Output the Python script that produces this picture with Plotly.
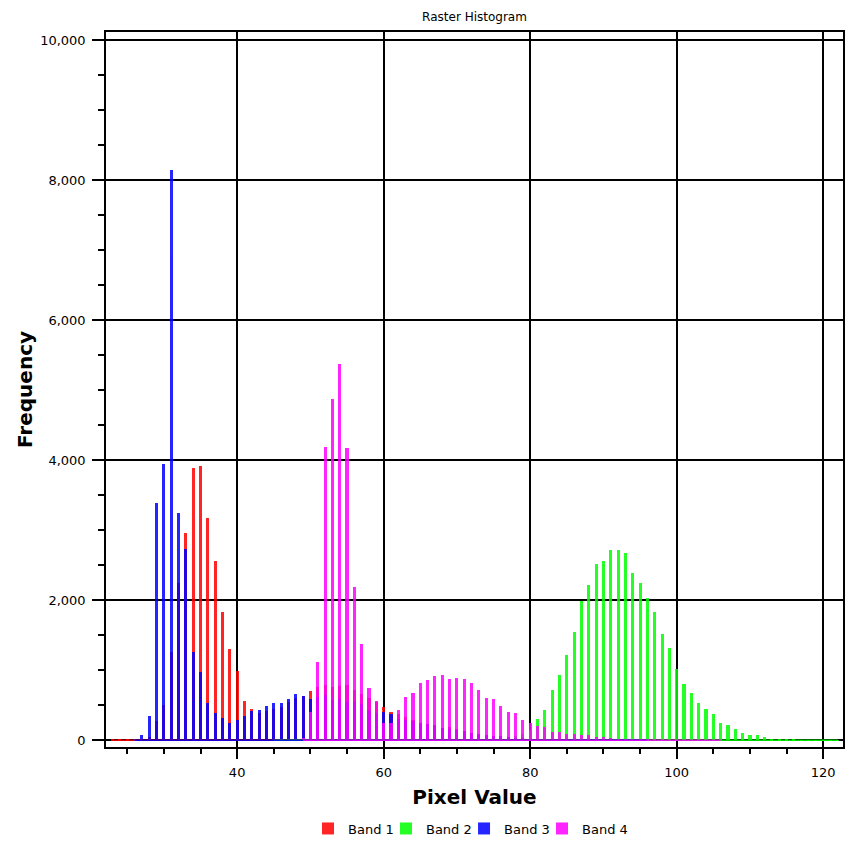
import plotly.graph_objects as go

# ---------------- data ----------------
band1_x = list(range(23, 86))
band1_y = [5, 5, 8, 10, 15, 40, 270, 500, 1260, 2250, 2965, 3895, 3915, 3180, 2555,
           1830, 1310, 985, 555, 450, 395, 420, 450, 480, 540, 600, 638, 700, 762,
           786, 762, 774, 795, 714, 657, 600, 552, 470, 410, 370, 330, 290, 250,
           220, 200, 180, 190, 160, 130, 100, 80, 60, 45, 35, 25, 18, 12, 8, 5, 3,
           2, 1, 1]

band2_x = list(range(45, 123))
band2_y = [2, 2, 2, 2, 2, 3, 3, 3, 3, 3, 4, 4, 4, 4, 5, 5, 5, 6, 6, 7, 7, 8, 8, 9,
           10, 12, 14, 16, 20, 25, 30, 40, 50, 60, 90, 150, 310, 429, 714, 938,
           1224, 1548, 1990, 2214, 2514, 2557, 2714, 2714, 2676, 2395, 2252, 2033,
           1833, 1524, 1324, 1024, 800, 676, 533, 452, 371, 252, 214, 167, 110, 71,
           81, 48, 24, 14, 8, 5, 3, 2, 2, 1, 1, 1]

band3_x = list(range(26, 97))
band3_y = [10, 70, 350, 3390, 3950, 8150, 3250, 2738, 1262, 976, 538, 395, 319, 252,
           286, 352, 414, 428, 495, 538, 530, 585, 655, 629, 590, 614, 644, 571,
           595, 548, 557, 519, 429, 395, 405, 381, 300, 290, 270, 250, 230, 214,
           180, 165, 152, 129, 110, 95, 80, 65, 55, 45, 35, 28, 20, 15, 12, 10, 8,
           6, 5, 4, 3, 3, 2, 2, 1, 1, 1, 1, 1]

band4_x = list(range(49, 107))
band4_y = [30, 400, 1120, 4190, 4880, 5370, 4175, 2190, 1380, 752, 557, 250, 250,
           430, 619, 676, 815, 857, 919, 938, 876, 895, 876, 819, 714, 610, 586,
           490, 405, 390, 286, 248, 202, 185, 125, 119, 95, 85, 75, 70, 50, 40, 30,
           25, 20, 15, 11, 9, 7, 5, 4, 3, 3, 2, 2, 1, 1, 1]

band_names = ["Band 1", "Band 2", "Band 3", "Band 4"]
band_colors = ["#ff0000", "#00ff00", "#0000ff", "#ff00ff"]

x_ticks = [40, 60, 80, 100, 120]
y_ticks = [0, 2000, 4000, 6000, 8000, 10000]
y_tick_labels = ["0", "2,000", "4,000", "6,000", "8,000", "10,000"]

FONT = "DejaVu Sans, Verdana, sans-serif"

# legend entry left edges (paper fraction) – one small legend per band
legend_ids = ["legend", "legend2", "legend3", "legend4"]
legend_left = [0.2741, 0.3799, 0.4858, 0.5916]

fig = go.Figure()
series = [(band1_x, band1_y), (band2_x, band2_y), (band3_x, band3_y), (band4_x, band4_y)]

for (xs, ys), name, col, lid in zip(series, band_names, band_colors, legend_ids):
    fig.add_trace(go.Bar(
        x=xs, y=ys, name=name, width=0.42,
        marker=dict(color=col, line=dict(width=0)),
        opacity=0.85, legend=lid,
    ))

for (xs, ys), name, col in zip(series, band_names, band_colors):
    fig.add_trace(go.Scatter(
        x=[xs[0], xs[-1]], y=[0, 0], mode="lines",
        line=dict(color=col, width=1.5), opacity=0.85,
        showlegend=False, hoverinfo="skip",
    ))

legend_style = dict(orientation="h", xanchor="left", y=-0.114, yanchor="middle",
                    font=dict(size=13, family=FONT, color="black"),
                    itemsizing="constant", bgcolor="rgba(0,0,0,0)", borderwidth=0)

fig.update_layout(
    width=845, height=841,
    margin=dict(l=106, r=2, t=32, b=94, autoexpand=False),
    paper_bgcolor="white", plot_bgcolor="white",
    barmode="overlay", bargap=0,
    font=dict(family=FONT, size=13, color="black"),
    title=dict(text="Raster Histogram", x=0.5, xref="paper", xanchor="center",
               y=1 - 17 / 841, yref="container", yanchor="middle",
               font=dict(size=12, family=FONT, color="black")),
    showlegend=True,
)
for lid, lx in zip(legend_ids, legend_left):
    fig.update_layout({lid: dict(legend_style, x=lx)})

fig.update_xaxes(
    range=[22.1, 122.7], tickmode="array", tickvals=x_ticks,
    showgrid=True, gridcolor="black", gridwidth=1.5,
    showline=True, linecolor="black", linewidth=1.5, mirror=True,
    ticks="outside", ticklen=10, tickwidth=1.5, tickcolor="black",
    minor=dict(dtick=5, tick0=0, ticks="outside", ticklen=5, tickwidth=1.5,
               tickcolor="black", showgrid=False),
    zeroline=False, automargin=False, ticklabelstandoff=3,
    tickfont=dict(size=13, family=FONT, color="black"),
    title=dict(text="<b>Pixel Value</b>", standoff=11,
               font=dict(size=20, family=FONT, color="black")),
)

fig.update_yaxes(
    range=[-96, 10119], tickmode="array", tickvals=y_ticks, ticktext=y_tick_labels,
    showgrid=True, gridcolor="black", gridwidth=1.5,
    showline=True, linecolor="black", linewidth=1.5, mirror=True,
    ticks="outside", ticklen=12, tickwidth=1.5, tickcolor="black",
    minor=dict(dtick=500, tick0=0, ticks="outside", ticklen=6, tickwidth=1.5,
               tickcolor="black", showgrid=False),
    zeroline=False, automargin=False, ticklabelstandoff=4,
    tickfont=dict(size=13, family=FONT, color="black"),
    title=dict(text="<b>Frequency</b>", standoff=2,
               font=dict(size=20, family=FONT, color="black")),
)

fig.write_html("out.html")
